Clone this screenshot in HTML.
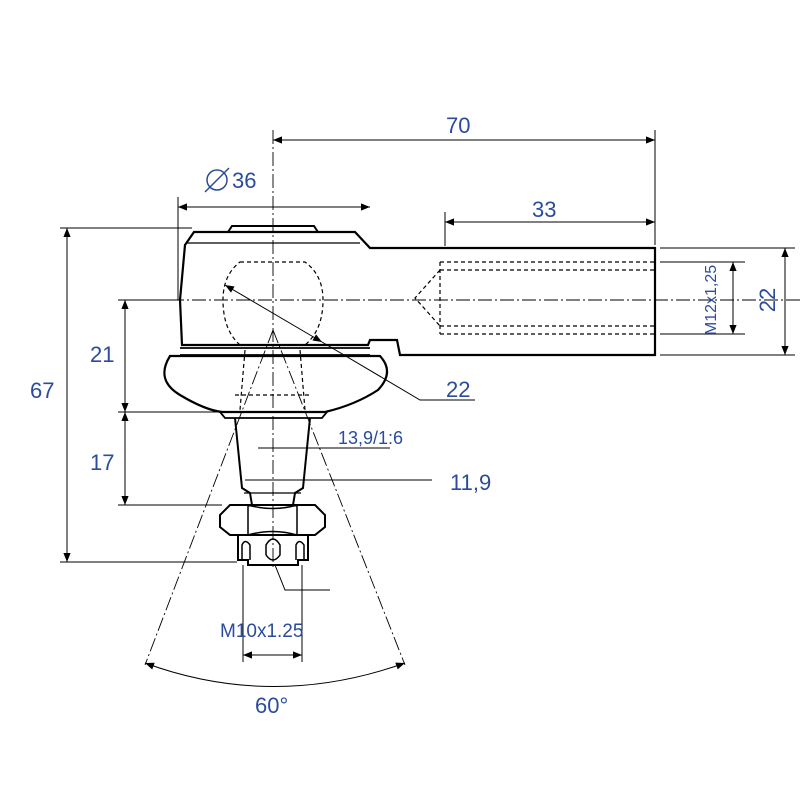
<!DOCTYPE html>
<html><head><style>body{margin:0;background:#fff}svg{display:block}</style></head>
<body>
<svg width="800" height="800" viewBox="0 0 800 800" xmlns="http://www.w3.org/2000/svg" font-family="Liberation Sans, sans-serif">
<defs>
<marker id="a" viewBox="0 0 10 10" refX="10" refY="5" markerWidth="20" markerHeight="9" orient="auto-start-reverse" markerUnits="userSpaceOnUse"><path d="M0,1L10,5L0,9z" fill="#000"/></marker>
</defs>
<g stroke="#000" fill="none">
<path d="M194,232 L355,232 L370,248 L655,248 L655,355 L400,355 L397,340 L370,340 L368,345 L182,345 L180,300 L185,245 Z" stroke-width="2.2"/>
<path d="M228,232 L232,226 L314,226 L318,232" stroke-width="2"/>
<path d="M186,243 L360,243" stroke-width="1.2"/>
<path d="M180,348 L370,348 M180,355 L370,355" stroke-width="1.8"/>
<path d="M170,356 Q155,380 180,395 Q205,410 222,412 L325,412 Q355,405 378,390 Q395,372 380,356 Z" stroke-width="2.2"/>
<path d="M220,412 L327,412 L322,418 L225,418 Z" stroke-width="1.8"/>
<path d="M235,418 L242,488 L250,493 L252,505 M310,418 L303,488 L295,493 L293,505" stroke-width="2"/>
<path d="M244,493 L301,493" stroke-width="1.2"/>
<path d="M230,505 L315,505 L325,515 L325,527 L315,535 L230,535 L220,527 L220,515 Z" stroke-width="2"/>
<path d="M248,505 Q273,512 297,505 M248,535 Q273,528 297,535 M248,505 L248,535 M297,505 L297,535" stroke-width="1.5"/>
<path d="M238,535 L238,560 L248,560 L248,565 L298,565 L298,560 L308,560 L308,535" stroke-width="2"/>
<path d="M242,560 L242,545 Q245,538 250,545 L250,560 M296,560 L296,545 Q299,538 304,545 L304,560 M266,555 L266,545 Q273,533 280,545 L280,555 Q273,565 266,555" stroke-width="1.5"/>
<g stroke-dasharray="4,3" stroke-width="1.2">
<path d="M440,262 L655,262 M440,270 L655,270 M440,326 L655,326 M440,334 L655,334 M440,262 L440,334 M440,270 L415,298 L440,326"/>
<path d="M240,262 L305,262 Q323,275 323,300 Q323,330 305,345 L240,345 Q223,330 223,300 Q223,275 240,262 Z"/>
<path d="M245,350 L240,410 M300,350 L305,410 M235,395 L312,395"/>
</g>
<g stroke-dasharray="14,3,2,3" stroke-width="0.9">
<path d="M273,130 L273,570 M170,300 L800,300"/>
<path d="M273,330 L145,665 M273,330 L405,665"/>
</g>
<g stroke-width="1">
<path d="M273,140 L655,140" marker-start="url(#a)" marker-end="url(#a)"/>
<path d="M655,130 L655,245"/>
<path d="M178,207 L370,207" marker-start="url(#a)" marker-end="url(#a)"/>
<path d="M178,197 L178,300"/>
<path d="M445,222 L655,222" marker-start="url(#a)" marker-end="url(#a)"/>
<path d="M445,212 L445,246"/>
<path d="M67,228 L67,562" marker-start="url(#a)" marker-end="url(#a)"/>
<path d="M60,228 L192,228 M60,562 L237,562"/>
<path d="M125,300 L125,412" marker-start="url(#a)" marker-end="url(#a)"/>
<path d="M125,412 L125,505" marker-start="url(#a)" marker-end="url(#a)"/>
<path d="M118,300 L180,300 M118,412 L232,412 M118,505 L222,505"/>
<path d="M785,248 L785,355" marker-start="url(#a)" marker-end="url(#a)"/>
<path d="M660,248 L795,248 M660,355 L795,355"/>
<path d="M733,262 L733,334" marker-start="url(#a)" marker-end="url(#a)"/>
<path d="M660,262 L745,262 M660,334 L745,334"/>
<path d="M225,285 L322,342" marker-start="url(#a)" marker-end="url(#a)"/>
<path d="M322,342 L420,400 L475,400"/>
<path d="M258,448 L390,448 M245,480 L432,480"/>
<path d="M243,565 L243,662 M302,565 L302,662"/>
<path d="M243,655 L302,655" marker-start="url(#a)" marker-end="url(#a)"/>
<path d="M275,565 L285,590 L330,590" />
<path d="M145,663 Q273,710 405,663" marker-start="url(#a)" marker-end="url(#a)"/>
</g>
</g>
<g fill="#2b4c9c" font-size="22">
<text x="446" y="133">70</text>
<text x="232" y="188">36</text>
<circle cx="217" cy="180" r="10" fill="none" stroke="#2b4c9c" stroke-width="1.5"/>
<path d="M205,192 L229,168" stroke="#2b4c9c" stroke-width="1.5"/>
<text x="532" y="217">33</text>
<text x="30" y="398">67</text>
<text x="90" y="362">21</text>
<text x="90" y="470">17</text>
<text x="446" y="397">22</text>
<text x="450" y="490">11,9</text>
<text x="255" y="713">60°</text>
<text transform="translate(775,300) rotate(-90)" text-anchor="middle">22</text>
<text font-size="18" x="338" y="444">13,9/1:6</text>
<text font-size="19" x="220" y="637">M10x1.25</text>
<text font-size="16" transform="translate(716,300) rotate(-90)" text-anchor="middle">M12x1,25</text>
</g>
</svg>
</body></html>
